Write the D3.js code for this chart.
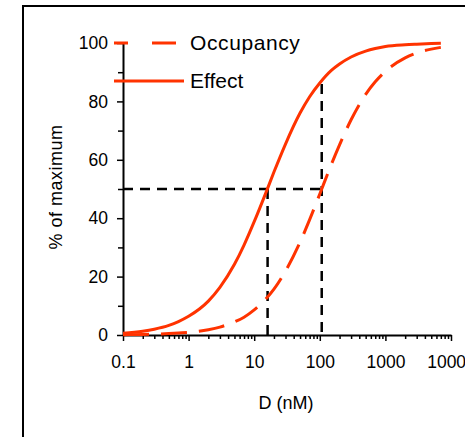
<!DOCTYPE html>
<html>
<head>
<meta charset="utf-8">
<script src="https://cdn.jsdelivr.net/npm/d3@7"></script>
<style>
  body { margin: 0; background: #fff; }
  svg { display: block; font-family: "Liberation Sans", Arial, sans-serif; }
</style>
</head>
<body>
<svg id="chart" width="465" height="437"></svg>
<script>
// Dose values (nM)
const dose = [0.1, 0.2, 0.3, 0.5, 0.7, 1, 2, 3, 5, 7, 10, 15, 20, 30, 50, 70, 100, 150, 200, 300, 500, 700, 1000, 2000, 3000, 5000, 7000];
// % of maximum, effect curve (solid)
const effect = [0.6, 1.3, 2.0, 3.3, 4.6, 6.4, 11.6, 16.3, 24.2, 30.8, 38.8, 48.6, 55.8, 65.4, 76.0, 81.6, 86.3, 90.6, 92.8, 95.2, 97.2, 98.1, 98.8, 99.4, 99.6, 99.8, 99.9];
// % of maximum, occupancy curve (dashed)
const occupancy = [0.1, 0.2, 0.3, 0.5, 0.7, 0.9, 1.8, 2.7, 4.5, 6.1, 8.6, 12.3, 15.7, 21.9, 31.8, 39.5, 48.3, 58.4, 65.1, 73.7, 82.4, 86.7, 90.3, 94.9, 96.6, 97.9, 98.5];

// reference lines: EC50 of effect and Kd of occupancy
const ec50 = 16;
const kd = 107;
const effectAtKd = 86;

const xTicks = [0.1, 1, 10, 100, 1000, 10000];
const xTickLabels = ["0.1", "1", "10", "100", "1000", "10000"];
const yTicks = [0, 20, 40, 60, 80, 100];
const yMinorTicks = [10, 30, 50, 70, 90];

const red = "#ff3300";

const svg = d3.select("#chart");

// outer frame (runs off the right and bottom)
svg.append("rect")
    .attr("x", 23).attr("y", 6)
    .attr("width", 500).attr("height", 500)
    .attr("fill", "none")
    .attr("stroke", "#000")
    .attr("stroke-width", 2);

const x = d3.scaleLog().domain([0.1, 10000]).range([123, 451]);
const y = d3.scaleLinear().domain([0, 100]).range([335, 43]);

// minor log ticks on x
const xMinor = [];
for (let d = 0.1; d < 10000; d *= 10) {
    for (let k = 2; k < 10; k++) xMinor.push(+(d * k).toPrecision(3));
}

// x axis
svg.append("g")
    .attr("transform", "translate(0,335)")
    .call(d3.axisBottom(x).tickValues(xMinor).tickSize(4).tickSizeOuter(0).tickFormat(""))
    .call(g => g.select(".domain").remove())
    .call(g => g.selectAll("line").attr("stroke-width", 1.5));

svg.append("g")
    .attr("transform", "translate(0,335)")
    .call(d3.axisBottom(x).tickValues(xTicks).tickSize(6).tickSizeOuter(0).tickPadding(15)
        .tickFormat((d, i) => xTickLabels[i]))
    .call(g => g.select(".domain").attr("stroke-width", 2))
    .call(g => g.selectAll("line").attr("stroke-width", 1.5))
    .call(g => g.selectAll("text").attr("font-size", 17.5).attr("fill", "#000").attr("font-family", null));

// y axis
svg.append("g")
    .attr("transform", "translate(123,0)")
    .call(d3.axisLeft(y).tickValues(yMinorTicks).tickSize(5).tickSizeOuter(0).tickFormat(""))
    .call(g => g.select(".domain").remove())
    .call(g => g.selectAll("line").attr("stroke-width", 1.5));

svg.append("g")
    .attr("transform", "translate(123,0)")
    .call(d3.axisLeft(y).tickValues(yTicks).tickSize(6).tickSizeOuter(0).tickPadding(9))
    .call(g => g.select(".domain").attr("stroke-width", 2))
    .call(g => g.selectAll("line").attr("stroke-width", 1.5))
    .call(g => g.selectAll("text").attr("font-size", 17.5).attr("fill", "#000").attr("font-family", null));

// axis titles
svg.append("text")
    .attr("x", 286).attr("y", 409)
    .attr("text-anchor", "middle")
    .attr("font-size", 18)
    .text("D (nM)");

svg.append("text")
    .attr("transform", "translate(62,187) rotate(-90)")
    .attr("text-anchor", "middle")
    .attr("font-size", 18)
    .attr("letter-spacing", 0.5)
    .text("% of maximum");

// black dashed guide lines
const guide = svg.append("g")
    .attr("stroke", "#000")
    .attr("stroke-width", 2.5)
    .attr("stroke-dasharray", "10,7")
    .attr("fill", "none");

guide.append("line")
    .attr("x1", x(0.1)).attr("x2", x(kd))
    .attr("y1", y(50)).attr("y2", y(50));
guide.append("line")
    .attr("x1", x(ec50)).attr("x2", x(ec50))
    .attr("y1", y(50)).attr("y2", y(0));
guide.append("line")
    .attr("x1", x(kd)).attr("x2", x(kd))
    .attr("y1", y(effectAtKd)).attr("y2", y(0));

// curves
const line = d3.line()
    .x(d => x(d[0]))
    .y(d => y(d[1]))
    .curve(d3.curveMonotoneX);

svg.append("path")
    .datum(dose.map((d, i) => [d, effect[i]]))
    .attr("d", line)
    .attr("fill", "none")
    .attr("stroke", red)
    .attr("stroke-width", 3);

svg.append("path")
    .datum(dose.map((d, i) => [d, occupancy[i]]))
    .attr("d", line)
    .attr("fill", "none")
    .attr("stroke", red)
    .attr("stroke-width", 3)
    .attr("stroke-dasharray", "26,12");

// legend
svg.append("line")
    .attr("x1", 114).attr("x2", 176)
    .attr("y1", 43).attr("y2", 43)
    .attr("stroke", red)
    .attr("stroke-width", 3)
    .attr("stroke-dasharray", "24,24")
    .attr("stroke-dashoffset", 10);
svg.append("text")
    .attr("x", 190).attr("y", 50)
    .attr("font-size", 21)
    .attr("letter-spacing", 0.6)
    .text("Occupancy");

svg.append("line")
    .attr("x1", 114).attr("x2", 184)
    .attr("y1", 81).attr("y2", 81)
    .attr("stroke", red)
    .attr("stroke-width", 3);
svg.append("text")
    .attr("x", 190).attr("y", 88)
    .attr("font-size", 21)
    .text("Effect");
</script>
</body>
</html>
